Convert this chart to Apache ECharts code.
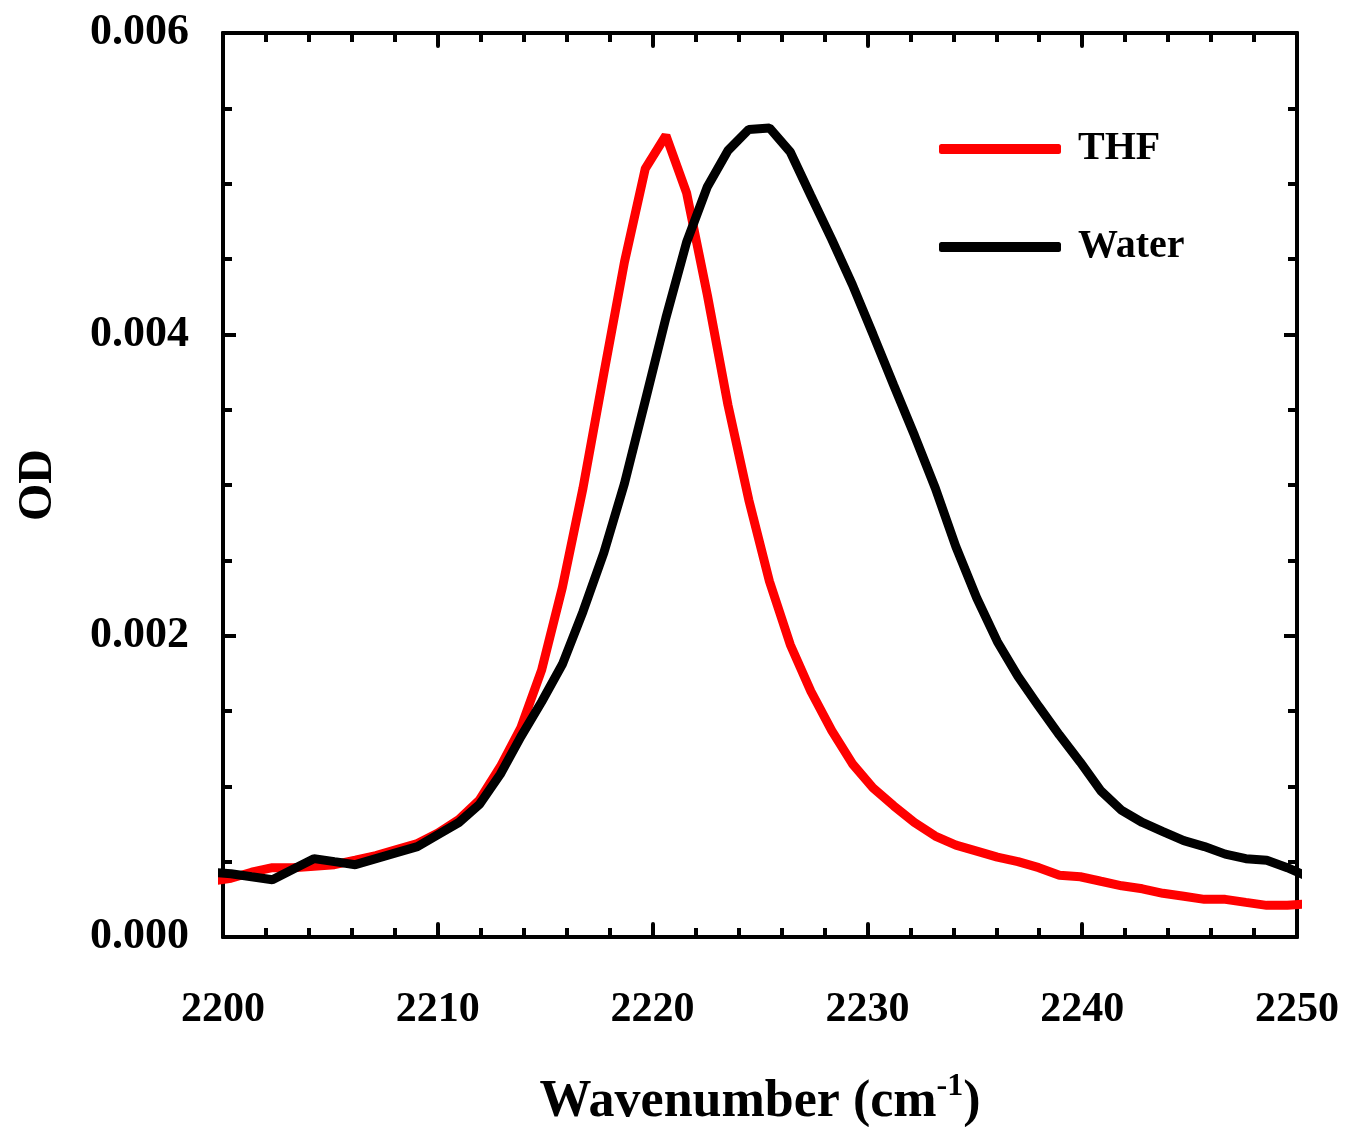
<!DOCTYPE html>
<html>
<head>
<meta charset="utf-8">
<script src="https://cdn.jsdelivr.net/npm/echarts@6/dist/echarts.min.js"></script>
<style>
html,body{margin:0;padding:0;background:#fff;}
#chart{width:1346px;height:1127px;}
</style>
</head>
<body>
<div id="chart"></div>
<script>
// Wavenumber (cm^-1) sample positions
var wavenumber = [2199.41,2200.37,2201.33,2202.30,2203.26,2204.23,2205.19,2206.16,2207.12,2208.08,2209.05,
  2210.01,2210.98,2211.94,2212.91,2213.87,2214.83,2215.80,2216.76,2217.73,2218.69,
  2219.66,2220.62,2221.58,2222.55,2223.51,2224.48,2225.44,2226.41,2227.37,2228.34,
  2229.30,2230.26,2231.23,2232.19,2233.16,2234.12,2235.09,2236.05,2237.01,2237.98,
  2238.94,2239.91,2240.87,2241.84,2242.80,2243.76,2244.73,2245.69,2246.66,2247.62,
  2248.59,2249.55,2250.51];
var thfOD = [0.00037,0.00039,0.00043,0.00046,0.00046,0.00047,0.00048,0.00051,0.00054,0.00058,0.00062,
  0.00069,0.00078,0.00091,0.00113,0.00139,0.00177,0.00232,0.00298,0.00374,0.00448,
  0.00510,0.00532,0.00494,0.00426,0.00353,0.00290,0.00236,0.00194,0.00163,0.00137,
  0.00115,0.00099,0.00087,0.00076,0.00067,0.00061,0.00057,0.00053,0.00050,0.00046,
  0.00041,0.00040,0.00037,0.00034,0.00032,0.00029,0.00027,0.00025,0.00025,0.00023,
  0.00021,0.00021,0.00022];
var waterOD = [0.00043,0.00042,0.00040,0.00038,0.00045,0.00052,0.00050,0.00048,0.00052,0.00056,0.00060,
  0.00068,0.00076,0.00088,0.00108,0.00133,0.00156,0.00181,0.00216,0.00255,0.00301,
  0.00356,0.00411,0.00461,0.00498,0.00522,0.00536,0.00537,0.00521,0.00492,0.00463,
  0.00433,0.00400,0.00366,0.00333,0.00298,0.00259,0.00225,0.00196,0.00173,0.00153,
  0.00134,0.00116,0.00097,0.00084,0.00076,0.00070,0.00064,0.00060,0.00055,0.00052,
  0.00051,0.00046,0.00040];
var seriesNames = ['THF','Water'];
var seriesColors = ['#ff0000','#000000'];

function pairs(xs, ys){ return xs.map(function(x,i){ return [x, ys[i]]; }); }

var FONT = '"Times New Roman","Liberation Serif",serif';
var chart = echarts.init(document.getElementById('chart'), null, {renderer:'canvas'});

function xAx(pos, show){
  return {
    type:'value', position:pos, min:2200, max:2250, interval:10,
    axisLine:{show:true, onZero:false, lineStyle:{color:'#000', width:4}},
    axisTick:{show:true, inside:true, length:13, lineStyle:{color:'#000', width:4, cap:'round'}},
    minorTick:{show:true, splitNumber:5, length:9, lineStyle:{color:'#000', width:4}},
    splitLine:{show:false}, minorSplitLine:{show:false},
    axisLabel:{show:show, margin:52, color:'#000', fontFamily:FONT, fontWeight:'bold', fontSize:42,
      formatter:function(v){ return String(v); }},
    name: show ? '{a|Wavenumber (cm}{s|-1}{a|)}' : '',
    nameLocation:'middle', nameGap:134,
    nameTextStyle:{rich:{
      a:{fontFamily:FONT, fontWeight:'bold', fontSize:52, color:'#000', verticalAlign:'bottom', lineHeight:58},
      s:{fontFamily:FONT, fontWeight:'bold', fontSize:32, color:'#000', verticalAlign:'top', lineHeight:58, padding:[0,0,24,0]}
    }}
  };
}
function yAx(pos, show){
  return {
    type:'value', position:pos, min:0, max:0.006, interval:0.002,
    axisLine:{show:true, onZero:false, lineStyle:{color:'#000', width:4}},
    axisTick:{show:true, inside:true, length:13, lineStyle:{color:'#000', width:4}},
    minorTick:{show:true, splitNumber:4, length:9, lineStyle:{color:'#000', width:4}},
    splitLine:{show:false}, minorSplitLine:{show:false},
    axisLabel:{show:show, margin:34, color:'#000', fontFamily:FONT, fontWeight:'bold', fontSize:44,
      formatter:function(v){ return v.toFixed(3); }},
    name: show ? 'OD' : '', nameLocation:'middle', nameGap:160,
    nameTextStyle:{fontFamily:FONT, fontWeight:'bold', fontSize:48, color:'#000'}
  };
}

var option = {
  backgroundColor:'#fff',
  animation:false,
  grid:{left:223, right:49, top:33, bottom:190, containLabel:false, outerBoundsMode:'none'},
  xAxis:[xAx('bottom', true), xAx('top', false)],
  yAxis:[yAx('left', true), yAx('right', false)],
  legend:{
    orient:'vertical', left:934, top:122, itemWidth:122, itemHeight:10, itemGap:54,
    icon:'roundRect',
    textStyle:{fontFamily:FONT, fontWeight:'bold', fontSize:40, color:'#000', lineHeight:44, padding:[0,0,0,12]},
    data:seriesNames
  },
  series:[
    {name:seriesNames[0], type:'line', xAxisIndex:0, yAxisIndex:0, showSymbol:false, symbol:'none', clip:true,
     color:seriesColors[0], lineStyle:{color:seriesColors[0], width:9}, data:pairs(wavenumber, thfOD), z:2},
    {name:seriesNames[1], type:'line', xAxisIndex:0, yAxisIndex:0, showSymbol:false, symbol:'none', clip:true,
     color:seriesColors[1], lineStyle:{color:seriesColors[1], width:9}, data:pairs(wavenumber, waterOD), z:3}
  ]
};
chart.setOption(option);
</script>
</body>
</html>
